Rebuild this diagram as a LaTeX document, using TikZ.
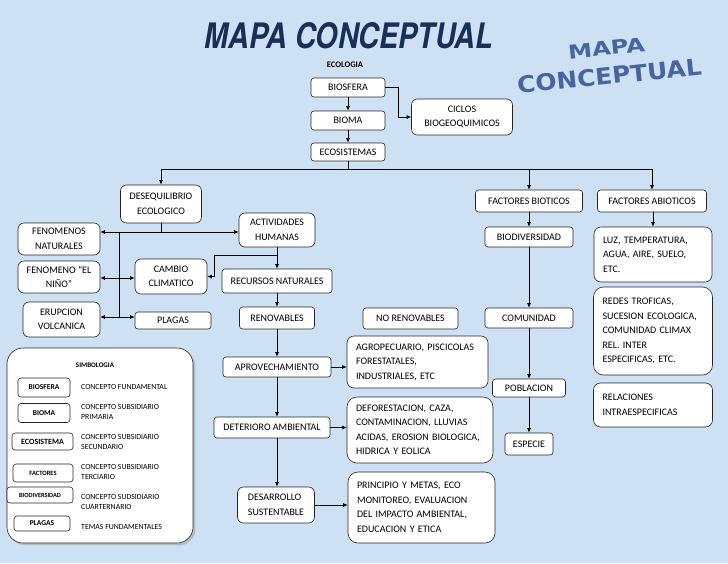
\documentclass[tikz,border=0pt]{standalone}
\usepackage{fontspec}
\setmainfont{Carlito}
\newfontfamily\titlefont{TeX Gyre Heros}
\newfontfamily\artfont{DejaVu Sans}
\usetikzlibrary{arrows.meta, shadows}
\definecolor{paper}{RGB}{206,224,243}
\definecolor{navy}{RGB}{24,48,88}
\definecolor{artblue}{RGB}{70,102,160}

\begin{document}
\begin{tikzpicture}[
    x=1pt, y=-1pt,
    box/.style={rectangle, rounded corners=3pt, draw=black!85, line width=0.6pt, fill=white, align=center, inner sep=1pt, font=\fontsize{10}{14.5}\selectfont},
    bigbox/.style={box, rounded corners=7pt, align=left, inner xsep=9pt},
    wh/.style 2 args={minimum width=#1pt, minimum height=#2pt},
    legbox/.style={box, inner sep=0pt, font=\bfseries\fontsize{7.5}{9}\selectfont},
    legtext/.style={anchor=west, align=left, inner sep=0pt, font=\fontsize{7.8}{10.8}\selectfont},
    arrow/.style={-{Latex[length=4.5pt, width=4pt]}, line width=0.7pt}
]
    % Background
    \useasboundingbox (0,0) rectangle (728,563);
    \fill[paper] (0,0) rectangle (728,563);

    % Titles
    \node[inner sep=0pt, text=navy] (titulo) at (349,36) {\resizebox{288pt}{26pt}{\titlefont\bfseries\itshape MAPA CONCEPTUAL}};
    \node[inner sep=0pt, rotate=6, align=center, text=artblue] (wordart) at (608,63)
        {\resizebox{77pt}{14pt}{\artfont\bfseries MAPA}\\[11pt]\resizebox{185pt}{17pt}{\artfont\bfseries CONCEPTUAL}};

    % Nodes
    \node[font=\bfseries\fontsize{8.5}{10}\selectfont] (ecologia) at (345,65) {ECOLOGIA};
    \node[box, wh={74}{19}] (biosfera) at (348,87.5) {BIOSFERA};
    \node[box, wh={74}{19}] (bioma) at (348,120.5) {BIOMA};
    \node[box, wh={74}{18}] (ecosistemas) at (348,152) {ECOSISTEMAS};
    \node[box, rounded corners=6pt, wh={101}{36}] (ciclos) at (462,117) {CICLOS\\BIOGEOQUIMICOS};

    \node[box, rounded corners=6pt, wh={81}{38}] (deseq) at (161,204) {DESEQUILIBRIO\\ECOLOGICO};
    \node[box, wh={107}{22}] (fbioticos) at (529,201) {FACTORES BIOTICOS};
    \node[box, wh={109}{22}] (fabioticos) at (652,201) {FACTORES ABIOTICOS};

    \node[box, wh={88}{20}] (biodiversidad) at (529,237) {BIODIVERSIDAD};
    \node[box, wh={88}{20}] (comunidad) at (529,318) {COMUNIDAD};
    \node[box, wh={73}{18}] (poblacion) at (529,388) {POBLACION};
    \node[box, wh={48}{22}] (especie) at (529,444) {ESPECIE};

    \node[bigbox, text width=100pt, minimum height=55pt] (luz) at (653,254.5) {LUZ, TEMPERATURA,\\AGUA, AIRE, SUELO,\\ETC.};
    \node[bigbox, rounded corners=10pt, text width=101pt, minimum height=88pt] (redes) at (653,331) {REDES TROFICAS,\\SUCESION ECOLOGICA,\\COMUNIDAD CLIMAX\\REL. INTER\\ESPECIFICAS, ETC.};
    \node[bigbox, text width=101pt, minimum height=44pt] (relaciones) at (653,405) {RELACIONES\\INTRAESPECIFICAS};

    \node[box, wh={95}{21}] (norenovables) at (410.5,318.5) {NO RENOVABLES};
    \node[bigbox, text width=123pt, minimum height=52pt] (agro) at (417.5,362) {AGROPECUARIO, PISCICOLAS\\FORESTATALES,\\INDUSTRIALES, ETC};
    \node[bigbox, rounded corners=10pt, text width=128pt, minimum height=66pt] (defor) at (420,430) {DEFORESTACION, CAZA,\\CONTAMINACION, LLUVIAS\\ACIDAS, EROSION BIOLOGICA,\\HIDRICA Y EOLICA};
    \node[bigbox, rounded corners=10pt, text width=129pt, minimum height=71pt] (principio) at (421.5,507.5) {PRINCIPIO Y METAS, ECO\\MONITOREO, EVALUACION\\DEL IMPACTO AMBIENTAL,\\EDUCACION Y ETICA};

    \node[box, rounded corners=6pt, wh={76}{34}] (actividades) at (277,230) {ACTIVIDADES\\HUMANAS};
    \node[box, wh={110}{24}] (recursos) at (277,281) {RECURSOS NATURALES};
    \node[box, wh={75}{22}] (renovables) at (277,318) {RENOVABLES};
    \node[box, wh={108}{20}] (aprov) at (277,367) {APROVECHAMIENTO};
    \node[box, wh={116}{21}] (deterioro) at (272,427.5) {DETERIORO AMBIENTAL};
    \node[box, rounded corners=6pt, align=left, wh={77}{36}] (desarrollo) at (276,505) {DESARROLLO\\SUSTENTABLE};

    \node[box, rounded corners=6pt, wh={82}{32}] (fenomenos) at (59,239) {FENOMENOS\\NATURALES};
    \node[box, rounded corners=6pt, wh={82}{32}] (nino) at (59,277) {FENOMENO “EL\\NIÑO”};
    \node[box, rounded corners=6pt, wh={77}{35}] (erupcion) at (61.5,319.5) {ERUPCION\\VOLCANICA};
    \node[box, rounded corners=6pt, wh={72}{35}] (cambio) at (171,276.5) {CAMBIO\\CLIMATICO};
    \node[box, wh={76}{17}] (plagas) at (173,320.5) {PLAGAS};

    % Legend
    \node[box, rounded corners=16pt, drop shadow={opacity=0.35}, wh={186}{195}] (leyenda) at (100,445.5) {};
    \node[font=\bfseries\fontsize{7}{8}\selectfont] (simbologia) at (95,365) {SIMBOLOGIA};
    \node[legbox, wh={52}{19}] (lbiosfera) at (44,387.5) {BIOSFERA};
    \node[legbox, wh={52}{19}] (lbioma) at (44,413) {BIOMA};
    \node[legbox, wh={61}{17}, font=\bfseries\fontsize{8}{9}\selectfont] (lecosistema) at (42.5,441.5) {ECOSISTEMA};
    \node[legbox, wh={60}{18}, font=\bfseries\fontsize{6.5}{8}\selectfont] (lfactores) at (43,473) {FACTORES};
    \node[legbox, wh={66}{16}, font=\bfseries\fontsize{6.3}{8}\selectfont] (lbiodiversidad) at (40,495) {BIODIVERSIDAD};
    \node[legbox, wh={56}{15}] (lplagas) at (42,523.5) {PLAGAS};
    \node[legtext] (ltexto1) at (81,387) {CONCEPTO FUNDAMENTAL};
    \node[legtext] (ltexto2) at (81,412) {CONCEPTO SUBSIDIARIO\\PRIMARIA};
    \node[legtext] (ltexto3) at (81,442) {CONCEPTO SUBSIDIARIO\\SECUNDARIO};
    \node[legtext] (ltexto4) at (81,472) {CONCEPTO SUBSIDIARIO\\TERCIARIO};
    \node[legtext] (ltexto5) at (81,502) {CONCEPTO SUDSIDIARIO\\CUARTERNARIO};
    \node[legtext] (ltexto6) at (81,527) {TEMAS FUNDAMENTALES};

    % Junctions
    \coordinate (bus) at (348,169);
    \coordinate (hline) at (0,232);
    \coordinate (t1) at (119,232);
    \coordinate (t2) at (119,278);
    \coordinate (t3) at (119,317);
    \coordinate (k1) at (277,255);

    % Arrows
    \draw[arrow] (biosfera) -- (bioma);
    \draw[arrow] (bioma) -- (ecosistemas);
    \draw[arrow] (biosfera.east) -- ++(13,0) |- (ciclos.west);

    \draw[line width=0.7pt] (ecosistemas) -- (bus);
    \draw[arrow] (bus) -| (deseq);
    \draw[arrow] (bus) -| (fbioticos);
    \draw[arrow] (bus) -| (fabioticos);

    \draw[arrow] (fbioticos) -- (biodiversidad);
    \draw[arrow] (biodiversidad) -- (comunidad);
    \draw[arrow] (comunidad) -- (poblacion);
    \draw[arrow] (poblacion) -- (especie);
    \draw[arrow] (fabioticos.south -| luz) -- (luz);

    \draw[line width=0.7pt] (deseq) -- (deseq.south |- hline);
    \draw[arrow] (deseq.south |- hline) -- (actividades.west |- hline);
    \draw[arrow] (deseq.south |- hline) -- (fenomenos.east |- hline);
    \draw[line width=0.7pt] (t1) -- (t3);
    \draw[arrow] (t2) -- (nino.east |- t2);
    \draw[arrow] (t2) -- (cambio.west |- t2);
    \draw[arrow] (t3) -- (erupcion.east |- t3);
    \draw[arrow] (t3) -- (plagas.west |- t3);

    \draw[arrow] (actividades) -- (recursos);
    \draw[arrow] (k1) -- ++(-63,0) |- (cambio.east);
    \draw[arrow] (recursos) -- (renovables);
    \draw[arrow] (renovables) -- (aprov);
    \draw[arrow] (aprov) -- (aprov |- deterioro.north);
    \draw[arrow] (aprov |- deterioro.south) -- (desarrollo.north -| aprov);

    \draw[arrow] (aprov.east) -- (aprov.east -| agro.west);
    \draw[arrow] (deterioro.east) -- (deterioro.east -| defor.west);
    \draw[arrow] (desarrollo.east) -- (desarrollo.east -| principio.west);
\end{tikzpicture}
\end{document}
